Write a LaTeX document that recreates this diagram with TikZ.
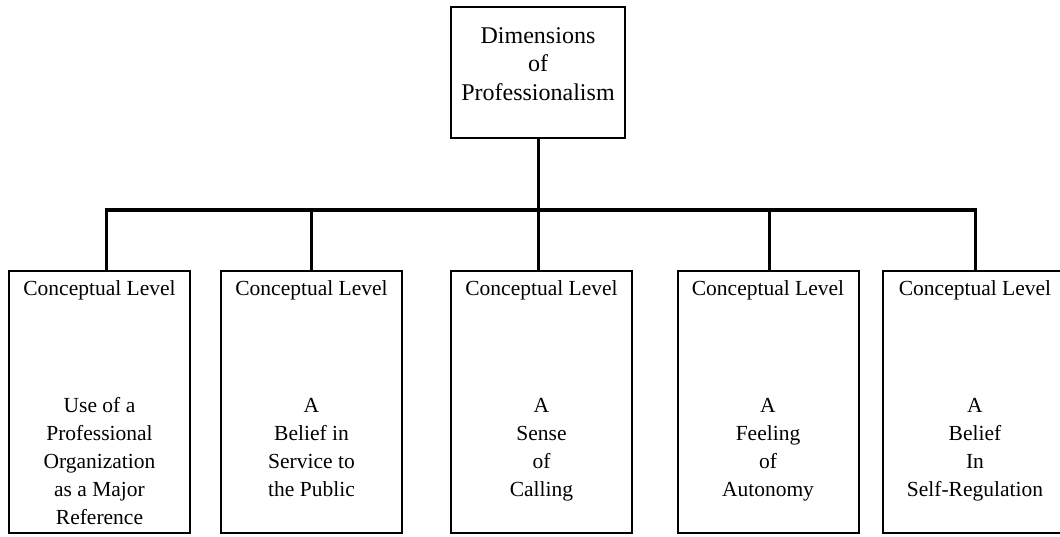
\documentclass[tikz,border=0pt]{standalone}
\usepackage{fontspec}
\setmainfont{Liberation Serif}
\begin{document}
\begin{tikzpicture}[x=1pt,y=-1pt,
  box/.style={draw=black,line width=2pt,rectangle,inner sep=0pt,outer sep=0pt},
  leaf/.style={box,minimum width=181pt,minimum height=262pt},
  head/.style={anchor=base,inner sep=0pt,font=\fontsize{21.5}{28}\selectfont},
  % multi-line texts are placed by the baseline of their last line
  body/.style={anchor=base,inner sep=0pt,align=center,font=\fontsize{21.5}{28}\selectfont},
  title/.style={anchor=base,inner sep=0pt,align=center,font=\fontsize{24}{28.5}\selectfont},
  bar/.style={line width=4.5pt},
  drop/.style={line width=3pt}]
\useasboundingbox (0,0) rectangle (1060,536);
\clip (0,0) rectangle (1060,536);
\fill[white] (0,0) rectangle (1060,536);

% root box
\node[box,minimum width=174pt,minimum height=131pt] (root) at (538,72.5) {};
\node[title] (roottext) at (538,100) {Dimensions\\of\\Professionalism};

% the five dimension boxes
\node[leaf] (b1) at (99.5,402) {};
\node[leaf] (b2) at (311.5,402) {};
\node[leaf] (b3) at (541.5,402) {};
\node[leaf] (b4) at (768,402) {};
\node[leaf] (b5) at (973.5,402) {};

\foreach \i/\x in {1/99.5,2/311.5,3/541.5,4/768,5/975}
  \node[head] (h\i) at (\x,295) {Conceptual Level};

\node[body] (t1) at (99.5,524) {Use of a\\Professional\\Organization\\as a Major\\Reference};
\node[body] (t2) at (311.5,496) {A\\Belief in\\Service to\\the Public};
\node[body] (t3) at (541.5,496) {A\\Sense\\of\\Calling};
\node[body] (t4) at (768,496) {A\\Feeling\\of\\Autonomy};
\node[body] (t5) at (975,496) {A\\Belief\\In\\Self-Regulation};

% connectors
\coordinate (j0) at (539,210);
\coordinate (j1) at (106,210);
\coordinate (j2) at (311,210);
\coordinate (j3) at (538,210);
\coordinate (j4) at (769,210);
\coordinate (j5) at (975,210);
\draw[drop] (root.south) -- (root.south |- j0);
\draw[bar] ([xshift=-1.5pt]j1) -- ([xshift=1.5pt]j5);
\foreach \i in {1,...,5}
  \draw[drop] (j\i) -- (j\i |- b\i.north);
\end{tikzpicture}
\end{document}
